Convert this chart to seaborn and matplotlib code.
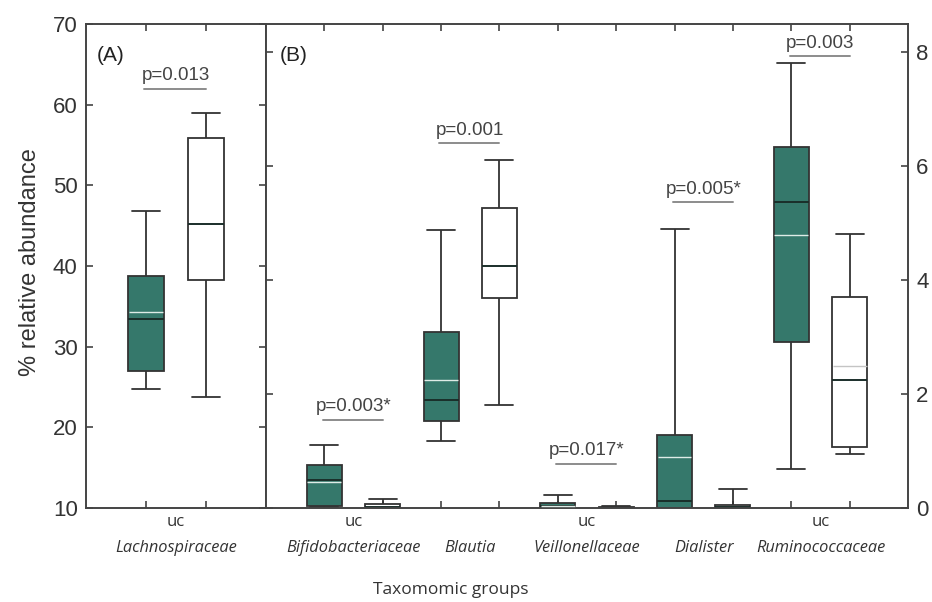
import numpy as np
import pandas as pd
import matplotlib.pyplot as plt
import matplotlib.transforms as mtransforms
import seaborn as sns

sns.set_theme(style="ticks")
plt.rcParams.update({"font.family": ["Liberation Sans", "DejaVu Sans"], "axes.edgecolor": "#444444",
                     "axes.linewidth": 1.4, "xtick.color": "#444444", "ytick.color": "#444444"})

TEAL = "#35786b"
EDGE = "#333333"
LABEL_FONT = ["Liberation Sans Narrow", "Open Sans", "DejaVu Sans"]

# Panel A (left scale) - five-number summaries: whisker low, Q1, median, Q3, whisker high
a_names = ["Lachnospiraceae"]
a_uc = [True]
a_teal = [[24.7, 27.0, 33.4, 38.7, 46.8]]
a_white = [[23.7, 38.3, 45.2, 55.9, 59.0]]
a_teal_mean = [34.3]
a_white_mean = [np.nan]
a_pvals = ["p=0.013"]
a_pline = [62.0]

# Panel B (right scale)
b_names = ["Bifidobacteriaceae", "Blautia", "Veillonellaceae", "Dialister", "Ruminococcaceae"]
b_uc = [True, False, True, False, True]
b_teal = [[0.01, 0.035, 0.50, 0.75, 1.10],
          [1.17, 1.53, 1.90, 3.09, 4.88],
          [0.00, 0.00, 0.03, 0.08, 0.23],
          [0.00, 0.00, 0.12, 1.28, 4.90],
          [0.68, 2.91, 5.37, 6.34, 7.81]]
b_white = [[0.00, 0.00, 0.02, 0.065, 0.15],
           [1.81, 3.68, 4.25, 5.26, 6.12],
           [0.00, 0.00, 0.005, 0.02, 0.03],
           [0.00, 0.00, 0.01, 0.05, 0.33],
           [0.94, 1.08, 2.24, 3.71, 4.81]]
b_teal_mean = [0.45, 2.25, 0.04, 0.90, 4.79]
b_white_mean = [np.nan, np.nan, np.nan, np.nan, 2.50]
b_pvals = ["p=0.003*", "p=0.001", "p=0.017*", "p=0.005*", "p=0.003"]
b_pline = [1.55, 6.41, 0.78, 5.37, 7.93]


def long_frame(teal, white):
    rows = []
    for i, (t, w) in enumerate(zip(teal, white)):
        rows += [(2 * i + 1, v, "UC") for v in t]
        rows += [(2 * i + 2, v, "Control") for v in w]
    return pd.DataFrame(rows, columns=["pos", "value", "grp"])


def draw_panel(ax, names, uc, teal, white, teal_mean, white_mean, pvals, plines):
    df = long_frame(teal, white)
    sns.boxplot(data=df, x="pos", y="value", hue="grp", palette={"UC": TEAL, "Control": "white"},
                native_scale=True, dodge=False, width=0.6, whis=(0, 100), saturation=1,
                linecolor=EDGE, linewidth=1.3, medianprops={"color": "#1a2e2a", "linewidth": 1.4},
                legend=False, ax=ax, capwidths=0.48)
    for i in range(len(names)):
        ax.hlines(teal_mean[i], 2 * i + 0.71, 2 * i + 1.29, color="#dfece7", lw=1.0, zorder=5)
        ax.hlines(white_mean[i], 2 * i + 1.71, 2 * i + 2.29, color="#c4c4c4", lw=1.0, zorder=5)

    trans = mtransforms.blended_transform_factory(ax.transData, ax.transAxes)
    for i, name in enumerate(names):
        c = 2 * i + 1.5
        if uc[i]:
            ax.text(c, -0.028, "uc", transform=trans, ha="center", va="center", fontsize=12,
                    color="#333333", family=LABEL_FONT)
        ax.text(c, -0.083, name, transform=trans, ha="center", va="center", fontsize=11.8,
                style="italic", color="#333333", family=LABEL_FONT)
        ax.plot([c - 0.53, c + 0.5], [plines[i], plines[i]], color="#8c8c8c", lw=1.4)
        ax.annotate(pvals[i], (c, plines[i]), xytext=(0, 6), textcoords="offset points",
                    ha="center", va="baseline", fontsize=13.5, color="#444444")

    n = 2 * len(names)
    ax.set_xlim(0, n + 1)
    ax.set_xticks(range(1, n + 1))
    ax.set_xticklabels([])
    ax.set_xlabel("")
    ax.set_ylabel("")
    ax.tick_params(axis="both", direction="in", length=5, width=1.2, top=True, bottom=True,
                   left=True, right=True, labelsize=16, labelcolor="#333333")


fig = plt.figure(figsize=(9.32, 6.02), dpi=100)
ax_a = fig.add_axes([86 / 932, 1 - 508 / 602, 180 / 932, 484 / 602])
ax_b = fig.add_axes([266 / 932, 1 - 508 / 602, 642 / 932, 484 / 602])

draw_panel(ax_a, a_names, a_uc, a_teal, a_white, a_teal_mean, a_white_mean, a_pvals, a_pline)
ax_a.set_ylim(10, 70)
ax_a.set_yticks(range(10, 71, 10))
ax_a.tick_params(axis="y", pad=6)

draw_panel(ax_b, b_names, b_uc, b_teal, b_white, b_teal_mean, b_white_mean, b_pvals, b_pline)
ax_b.set_ylim(0, 8.5)
ax_b.set_yticks([0, 2, 4, 6, 8])
ax_b.tick_params(axis="y", labelleft=False, labelright=True, pad=6)

ax_a.text(0.06, 0.935, "(A)", transform=ax_a.transAxes, fontsize=15, va="center", color="#222222")
ax_b.text(0.022, 0.935, "(B)", transform=ax_b.transAxes, fontsize=15, va="center", color="#222222")

fig.text(30 / 932, 1 - 262 / 602, "% relative abundance", rotation=90, ha="center", va="center",
         fontsize=17, color="#333333")
fig.text(451 / 932, 1 - 590 / 602, "Taxomomic groups", ha="center", va="center",
         fontsize=12.5, color="#333333", family=LABEL_FONT)

plt.savefig("out.png", dpi=100)
plt.close()
